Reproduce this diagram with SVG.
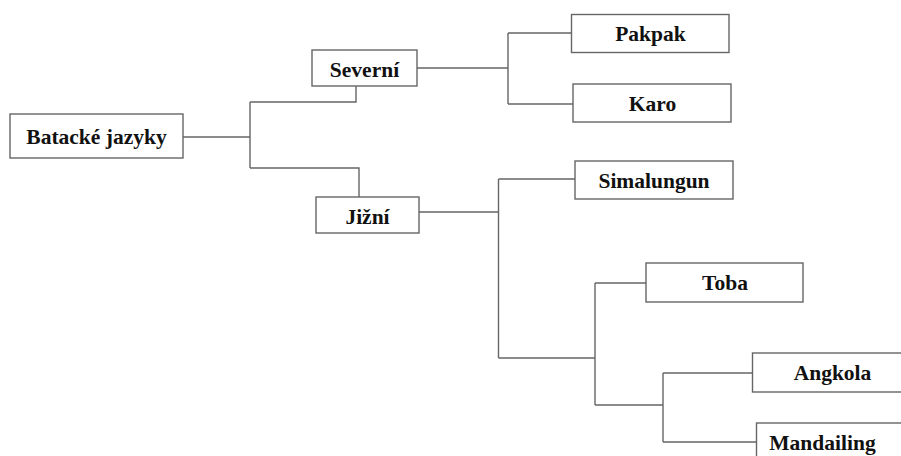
<svg xmlns="http://www.w3.org/2000/svg" width="901" height="456" viewBox="0 0 901 456">
<style>
.box{fill:#ffffff;stroke:#666666;stroke-width:1.4}
.lbl{font-family:"Liberation Serif","Times New Roman",serif;font-weight:bold;font-size:21.5px;fill:#111111;text-anchor:middle}
.conn{fill:none;stroke:#666666;stroke-width:1.4}
</style>
<rect width="901" height="456" fill="#ffffff"/>
<g id="connectors">
<path class="conn" d="M183,137 H250 M250,102 V168 M250,102 H356 V86 M250,168 H359 V197"/>
<path class="conn" d="M417,68 H508 M508,33 V104 M508,33 H571.5 M508,104 H573"/>
<path class="conn" d="M419,212 H498.5 M498.5,179 V358 M498.5,179 H575 M498.5,358 H595"/>
<path class="conn" d="M595,283 V405 M595,283 H646 M595,405 H663"/>
<path class="conn" d="M663,373 V442 M663,373 H752.5 M663,442 H756.5"/>
</g>
<g id="batacke">
<rect class="box" x="10" y="114" width="173" height="44"/>
<text class="lbl" x="96.5" y="143.5">Batacké jazyky</text>
</g>
<g id="severni">
<rect class="box" x="312" y="50" width="105" height="36"/>
<text class="lbl" x="364.5" y="76.5">Severní</text>
</g>
<g id="jizni">
<rect class="box" x="316" y="197" width="103" height="36"/>
<text class="lbl" x="367.5" y="223.5">Jižní</text>
</g>
<g id="pakpak">
<rect class="box" x="571.5" y="14.5" width="157.5" height="38"/>
<text class="lbl" x="650.5" y="41">Pakpak</text>
</g>
<g id="karo">
<rect class="box" x="573" y="84" width="158" height="38"/>
<text class="lbl" x="652.5" y="110.5">Karo</text>
</g>
<g id="simalungun">
<rect class="box" x="575" y="161" width="158" height="38"/>
<text class="lbl" x="654" y="188">Simalungun</text>
</g>
<g id="toba">
<rect class="box" x="646" y="263" width="157" height="39"/>
<text class="lbl" x="725" y="290">Toba</text>
</g>
<g id="angkola">
<rect class="box" x="752.5" y="353" width="160" height="39"/>
<text class="lbl" x="832.5" y="380">Angkola</text>
</g>
<g id="mandailing">
<rect class="box" x="756.5" y="423" width="160" height="39"/>
<text class="lbl" x="822.5" y="450">Mandailing</text>
</g>
</svg>
